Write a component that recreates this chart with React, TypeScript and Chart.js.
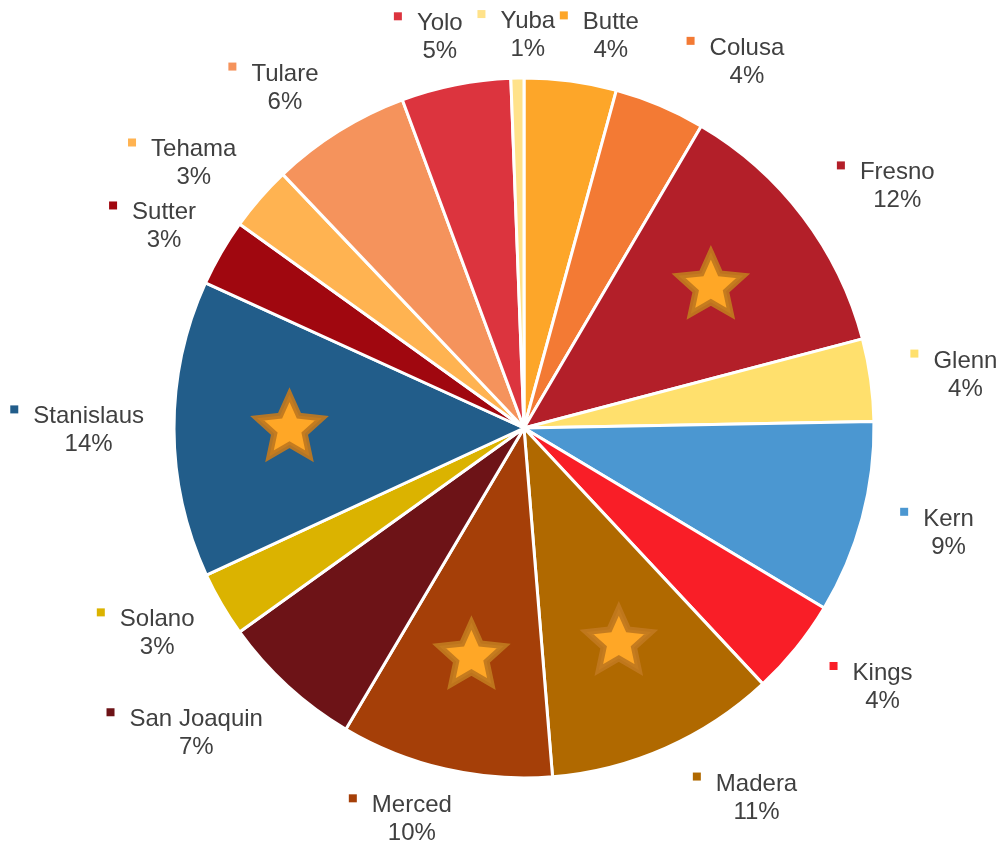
import React, { useEffect, useRef } from "react";
import { Chart, registerables } from "chart.js";

Chart.register(...registerables);

const counties = [
  "Butte", "Colusa", "Fresno", "Glenn", "Kern", "Kings", "Madera", "Merced",
  "San Joaquin", "Solano", "Stanislaus", "Sutter", "Tehama", "Tulare", "Yolo", "Yuba",
];
const shares = [4.25, 4.2, 12.45, 3.8, 8.9, 4.45, 10.65, 9.8, 6.6, 3.0, 13.7, 3.1, 3.0, 6.45, 5.05, 0.6];
const sliceColors = [
  "#FDA629", "#F37A34", "#B31F29", "#FFE06D", "#4B97D1", "#F91E27", "#B06900", "#A53F08",
  "#6D1317", "#DBB300", "#225D8A", "#A0070F", "#FFB351", "#F5935C", "#DC343E", "#FFE28A",
];
const starred = ["Fresno", "Madera", "Merced", "Stanislaus"];

// layout: label nudges (px) relative to the computed outside-end position
const labelNudgeX = [21, 52, 22, 10, 9, 17, 55, -32, -57, -2, 0, 1, -23, -32, -16, 0];
const labelNudgeY = [12, 11, 15, 4, -4, -9, -7, -8, -4, -15, 0, 13, 12, 9, 9, 14];

const FONT = '24px "Liberation Sans", Arial, sans-serif';
const TEXT_COLOR = "#404040";

function drawStar(ctx: CanvasRenderingContext2D, cx: number, cy: number, R: number) {
  const r = R * 0.47;
  ctx.beginPath();
  for (let k = 0; k < 10; k++) {
    const rad = k % 2 === 0 ? R : r;
    const ang = -Math.PI / 2 + (k * Math.PI) / 5;
    const px = cx + rad * Math.cos(ang);
    const py = cy + rad * Math.sin(ang);
    if (k === 0) ctx.moveTo(px, py);
    else ctx.lineTo(px, py);
  }
  ctx.closePath();
  ctx.fillStyle = "#FFA726";
  ctx.fill();
  ctx.lineJoin = "miter";
  ctx.miterLimit = 10;
  ctx.lineWidth = 6;
  ctx.strokeStyle = "rgba(192,120,30,0.92)";
  ctx.stroke();
}

const decorPlugin = {
  id: "decor",
  afterDatasetsDraw(chart: any) {
    const ctx: CanvasRenderingContext2D = chart.ctx;
    const meta = chart.getDatasetMeta(0);
    const total = shares.reduce((s, v) => s + v, 0);
    ctx.save();
    meta.data.forEach((arc: any, i: number) => {
      const { x, y, startAngle, endAngle, outerRadius } = arc.getProps(
        ["x", "y", "startAngle", "endAngle", "outerRadius"],
        true
      );
      const mid = (startAngle + endAngle) / 2;
      const ux = Math.cos(mid);
      const uy = Math.sin(mid);

      if (starred.includes(counties[i])) {
        const sr = outerRadius * 0.67;
        drawStar(ctx, x + ux * sr, y + uy * sr, 34);
      }

      ctx.font = FONT;
      const name = counties[i];
      const pct = Math.round((shares[i] / total) * 100) + "%";
      const nameW = ctx.measureText(name).width;
      const pctW = ctx.measureText(pct).width;
      const textW = Math.max(nameW, pctW);
      const keyW = 8;
      const keyGap = 15;
      const boxW = keyW + keyGap + textW;
      const boxH = 56;
      const a = boxW / 2;
      const b = boxH / 2;
      const tx = Math.abs(ux) > 1e-6 ? a / Math.abs(ux) : Infinity;
      const ty = Math.abs(uy) > 1e-6 ? b / Math.abs(uy) : Infinity;
      const t = Math.min(tx, ty);
      const d = outerRadius + 30 + t;
      const cx = x + ux * d + labelNudgeX[i];
      const cy = y + uy * d + labelNudgeY[i];
      const left = cx - a;
      const textCx = left + keyW + keyGap + textW / 2;
      const nameBase = cy - 6;
      const pctBase = nameBase + 28;
      ctx.fillStyle = TEXT_COLOR;
      ctx.textAlign = "center";
      ctx.textBaseline = "alphabetic";
      ctx.fillText(name, textCx, nameBase);
      ctx.fillText(pct, textCx, pctBase);
      const keyX = textCx - nameW / 2 - keyGap - keyW;
      ctx.fillStyle = sliceColors[i];
      ctx.fillRect(keyX, nameBase - 18, keyW, keyW);
    });
    ctx.restore();
  },
};

export default function App() {
  const canvasRef = useRef<HTMLCanvasElement | null>(null);

  useEffect(() => {
    document.body.style.margin = "0";
    const canvas = canvasRef.current;
    if (!canvas) return;
    const chart = new Chart(canvas, {
      type: "pie",
      data: {
        labels: counties,
        datasets: [
          {
            data: shares,
            backgroundColor: sliceColors,
            borderColor: "#FFFFFF",
            borderWidth: 3,
          },
        ],
      },
      options: {
        responsive: false,
        animation: false,
        radius: 350,
        layout: { padding: { left: 48, top: 13, right: 0, bottom: 0 } },
        plugins: {
          legend: { display: false },
          tooltip: { enabled: false },
        },
      } as any,
      plugins: [decorPlugin],
    });
    return () => chart.destroy();
  }, []);

  return (
    <div style={{ position: "absolute", left: 0, top: 0, width: 1000, height: 843, background: "#FFFFFF" }}>
      <canvas ref={canvasRef} width={1000} height={843} />
    </div>
  );
}
